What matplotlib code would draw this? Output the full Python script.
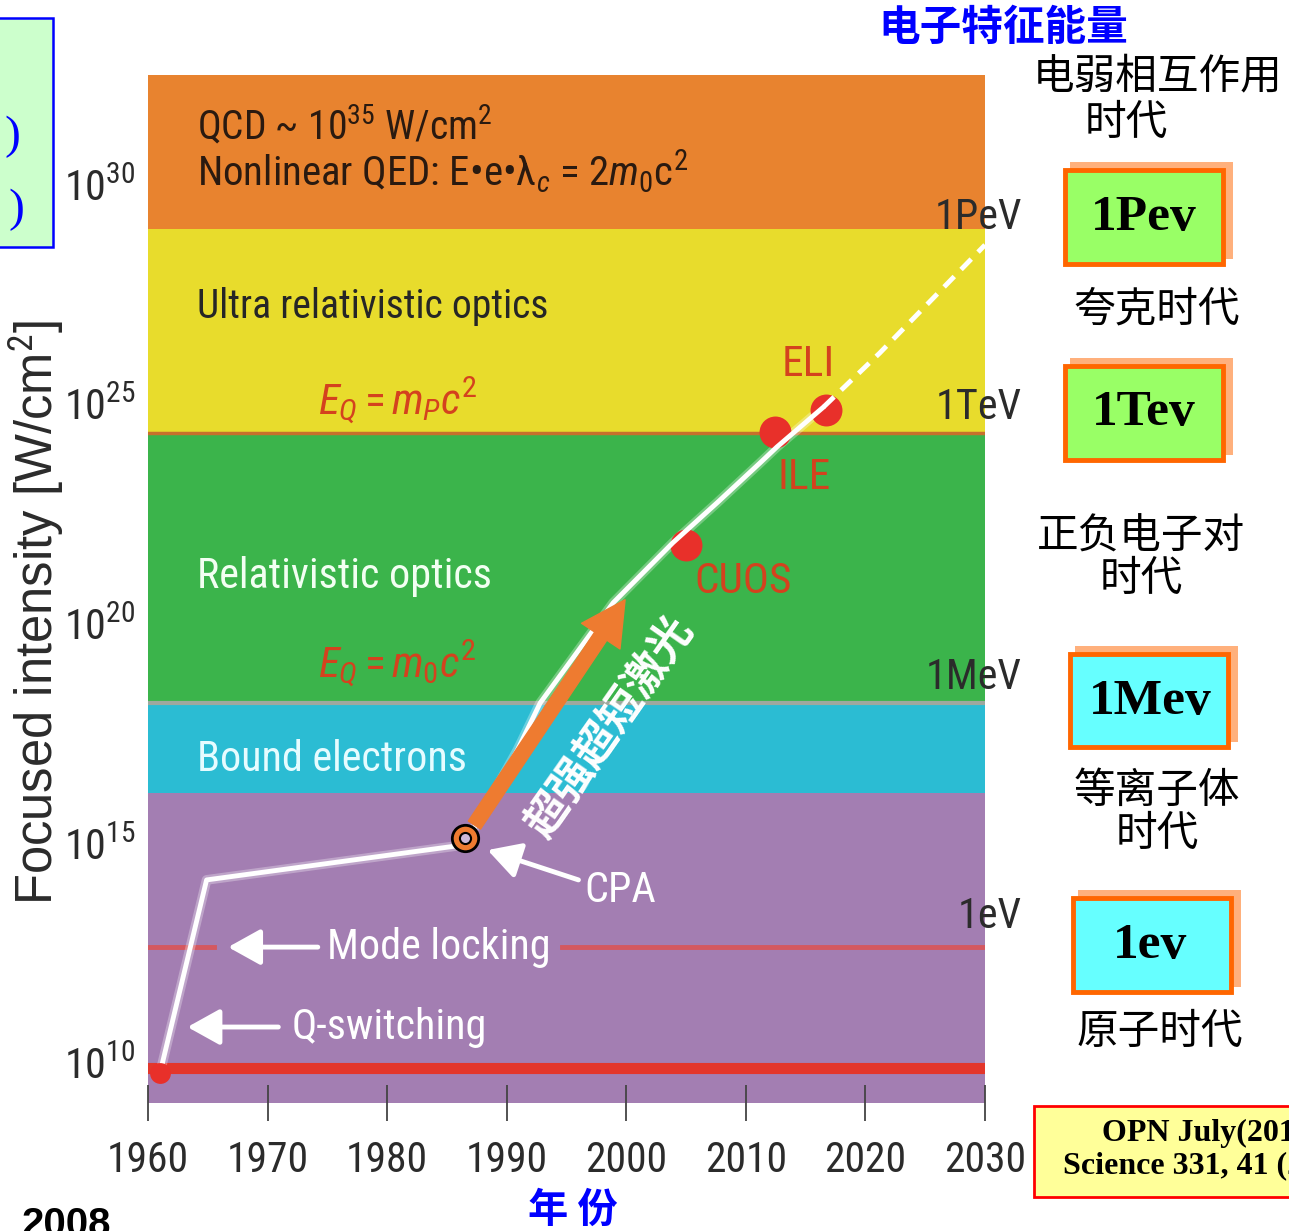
import matplotlib
matplotlib.use('Agg')
import matplotlib.pyplot as plt
import matplotlib.patches as mpatches
from matplotlib.transforms import Affine2D
from matplotlib import font_manager as fm
import numpy as np

# ---- pick a narrow sans font (reference text is condensed) ----
_ttf = fm.fontManager.ttflist
_names = {f.name for f in _ttf}
NARROW, STRETCH, SCALE = None, 'normal', 1.0
for c, sc in [('Liberation Sans Narrow', 1.0), ('Arial Narrow', 1.0), ('Roboto Condensed', 0.92),
              ('Noto Sans Condensed', 0.9), ('Open Sans Condensed', 0.9), ('Noto Sans SemiCondensed', 0.85)]:
    if c in _names:
        NARROW, SCALE = c, sc
        break
if NARROW is None:
    if any(f.name == 'DejaVu Sans' and 'Condensed' in f.fname for f in _ttf):
        NARROW, STRETCH, SCALE = 'DejaVu Sans', 'condensed', 0.86
    else:
        NARROW, SCALE = 'Liberation Sans', 0.84

plt.rcParams['font.family'] = [NARROW, 'DejaVu Sans']
plt.rcParams['font.stretch'] = STRETCH
MT = NARROW + (':condensed' if STRETCH == 'condensed' else '')
plt.rcParams['mathtext.fontset'] = 'custom'
plt.rcParams['mathtext.rm'] = MT
plt.rcParams['mathtext.it'] = MT + ':italic'
plt.rcParams['mathtext.bf'] = MT + ':bold'
plt.rcParams['mathtext.sf'] = MT


def fs(v):
    return v * SCALE


CJK = ['Noto Sans CJK SC', 'DejaVu Sans']
SERIF = ['Liberation Serif', 'DejaVu Serif']

# ---------------- data ----------------
year_ticks = [1960, 1970, 1980, 1990, 2000, 2010, 2020, 2030]
intensity_exps = [10, 15, 20, 25, 30]

# regime bands, log10 of intensity (W/cm^2)
band_bounds = [9.0, 16.15, 18.2, 24.35, 29.0, 33.0]
band_colors = ['#a37eb2', '#2bbcd3', '#3bb44b', '#e8dc2c', '#e8832f']

# white curve: record focused intensity vs year (log10 I)
curve_years = [1961.0, 1964.9, 1986.5, 1990.9, 1992.8, 1998.9, 2003.9, 2007.6, 2011.2, 2012.6, 2016.5]
curve_logI = [9.77, 14.17, 14.97, 17.13, 18.20, 20.48, 21.85, 22.76, 23.67, 24.03, 24.94]
# projected (dashed) part
proj_years = [2016.5, 2021.2, 2030.0]
proj_logI = [24.94, 26.17, 28.63]

facility_names = ['CUOS', 'ILE', 'ELI']
facility_years = [2005.0, 2012.4, 2016.7]
facility_logI = [21.80, 24.37, 24.87]

start_year, start_logI = 1961.0, 9.78
cpa_year, cpa_logI = 1986.5, 15.13
qswitch_line_logI = 9.89
modelock_line_logI = 12.64

# ultra-intense arrow
arrow_from = (1987.3, 15.42)
arrow_to = (1999.9, 20.55)

energy_labels = ['1PeV', '1TeV', '1MeV', '1eV']
energy_logI = [29.25, 24.92, 18.77, 13.33]

era_box_labels = ['1Pev', '1Tev', '1Mev', '1ev']
era_box_colors = ['#99ff66', '#99ff66', '#66ffff', '#66ffff']
era_names = ['夸克时代', '正负电子对\n时代', '等离子体\n时代', '原子时代']

# ---------------- figure ----------------
W, H = 1289, 1231
fig = plt.figure(figsize=(W / 100, H / 100), dpi=100)
PX = Affine2D().scale(1.0 / W, -1.0 / H).translate(0, 1) + fig.transFigure

ax = fig.add_axes([148 / W, 1 - 1103 / H, 837 / W, 1028 / H])
ax.set_yscale('log')
ax.set_xlim(1960, 2030.0)
ax.set_ylim(10 ** 9.09, 10 ** 32.5)
for s in ax.spines.values():
    s.set_visible(False)

for lo, hi, c in zip(band_bounds[:-1], band_bounds[1:], band_colors):
    ax.axhspan(10 ** lo, 10 ** hi, color=c, lw=0, zorder=0)
ax.axhline(10 ** band_bounds[3], color='#c8702c', lw=2.5, zorder=1)
ax.axhline(10 ** band_bounds[2], color='#9ea89e', lw=3, zorder=1)

# red laser lines
ax.axhline(10 ** qswitch_line_logI, color='#e3362b', lw=8, zorder=2)
ax.plot([1960, 1965.5], [10 ** modelock_line_logI] * 2, color='#d4585f', lw=3.5, zorder=2)
ax.plot([1994.6, 2030], [10 ** modelock_line_logI] * 2, color='#d4585f', lw=3.5, zorder=2)

# white curve with glow
cy = 10 ** np.array(curve_logI)
ax.plot(curve_years, cy, color='white', lw=7, alpha=0.3, zorder=3, solid_joinstyle='round')
ax.plot(curve_years, cy, color='white', lw=3.5, zorder=4, solid_joinstyle='round', solid_capstyle='round')
ax.plot(proj_years, 10 ** np.array(proj_logI), color='white', lw=3.5, ls=(0, (3, 2)), zorder=4)

# red facility dots
ax.plot(facility_years, 10 ** np.array(facility_logI), 'o', ms=23, color='#e8302a', mec='none', zorder=3.5)
ax.plot([start_year], [10 ** start_logI], 'o', ms=15, color='#e8302a', mec='none', zorder=5)

# orange arrow
ax.annotate('', xy=(arrow_to[0], 10 ** arrow_to[1]), xytext=(arrow_from[0], 10 ** arrow_from[1]),
            arrowprops=dict(arrowstyle='simple,head_length=0.9,head_width=0.95,tail_width=0.3',
                            color='#ee7b30', shrinkA=0, shrinkB=0, mutation_scale=35), zorder=6)
# CPA marker
ax.plot([cpa_year], [10 ** cpa_logI], 'o', ms=19, mfc='#ee7b30', mec='black', mew=2, zorder=7)
ax.plot([cpa_year], [10 ** cpa_logI], 'o', ms=8, mfc='#cdb8d8', mec='black', mew=1.5, zorder=8)

ax.text(1998.6, 10 ** 17.65, '超强超短激光', family=CJK, fontsize=31, fontweight='bold',
        color='white', rotation=55, rotation_mode='anchor', ha='center', va='center', zorder=9)

# white arrows
wa = dict(arrowstyle='-|>,head_length=0.9,head_width=0.5', color='white', lw=3.5,
          shrinkA=0, shrinkB=0, mutation_scale=22)
ax.annotate('', xy=(1988.4, 10 ** 14.85), xytext=(1996.0, 10 ** 14.17), arrowprops=wa, zorder=6)
ax.annotate('', xy=(1966.7, 10 ** modelock_line_logI), xytext=(1974.2, 10 ** modelock_line_logI), arrowprops=wa, zorder=6)
ax.annotate('', xy=(1963.3, 10 ** 10.82), xytext=(1970.9, 10 ** 10.82), arrowprops=wa, zorder=6)

# in-plot texts
FS = fs(33)
ax.text(1964.1, 10 ** 31.35, 'QCD ~ 10$^{35}$ W/cm$^{2}$', fontsize=fs(31), color='#2a1a10', va='center')
ax.text(1964.1, 10 ** 30.3, 'Nonlinear QED: E•e•λ$_{c}$ = 2$m_0$c$^2$', fontsize=fs(32), color='#2a1a10', va='center')
ax.text(1964.1, 10 ** 27.22, 'Ultra relativistic optics', fontsize=fs(31), color='#262626', va='center')
ax.text(1964.1, 10 ** 21.07, 'Relativistic optics', fontsize=FS, color='#f2fff2', va='center')
ax.text(1964.1, 10 ** 16.92, 'Bound electrons', fontsize=FS, color='#e6fcff', va='center')
ax.text(1974.2, 10 ** 25.06, '$E_Q = m_P c^2$', fontsize=fs(34), color='#d4421e', va='center')
ax.text(1974.2, 10 ** 19.07, '$E_Q = m_0 c^2$', fontsize=fs(34), color='#d4421e', va='center')
for name, x, y in zip(facility_names, [2009.8, 2014.9, 2015.2], [20.96, 23.33, 25.9]):
    ax.text(x, 10 ** y, name, fontsize=fs(34), color='#d4421e', ha='center', va='center')
ax.text(1999.5, 10 ** 13.94, 'CPA', fontsize=FS, color='white', ha='center', va='center')
ax.text(1975.0, 10 ** 12.64, 'Mode locking', fontsize=FS, color='white', va='center')
ax.text(1972.0, 10 ** 10.82, 'Q-switching', fontsize=FS, color='white', va='center')

for lab, y in zip(energy_labels, energy_logI):
    ax.text(2033.1, 10 ** y, lab, fontsize=fs(33), color='#2b2b2b', ha='right', va='center', clip_on=False)

# axes ticks
ax.set_xticks(year_ticks)
ax.set_xticklabels([str(y) for y in year_ticks])
ax.set_yticks([10.0 ** e for e in intensity_exps])
ax.set_yticklabels(['10$^{%d}$' % e for e in intensity_exps])
ax.minorticks_off()
ax.tick_params(axis='x', direction='inout', length=26, width=1.3, color='#444444', pad=14,
               labelsize=fs(32.5), labelcolor='#2b2b2b')
ax.tick_params(axis='y', length=0, pad=9, labelsize=fs(33), labelcolor='#2b2b2b')
fig.text(36 / W, 1 - 613 / H, 'Focused intensity [W/cm$^2$]', rotation=90, fontsize=36.5,
         family=['Liberation Sans', 'DejaVu Sans'], stretch='normal', color='#2b2b2b',
         ha='center', va='center')

# ---------------- right-hand annotations ----------------
fig.text(1003, 28, '电子特征能量', transform=PX, family=CJK, fontsize=30, fontweight='bold',
         color='#0000ff', ha='center', va='center')
fig.text(1158, 77, '电弱相互作用', transform=PX, family=CJK, fontsize=30, color='black', ha='center', va='center')
fig.text(1126, 123, '时代', transform=PX, family=CJK, fontsize=30, color='black', ha='center', va='center')

box_geom = [(1063, 168, 1225, 266), (1063, 364, 1225, 462), (1068, 652, 1230, 749), (1071, 896, 1233, 994)]
box_text_xy = [(1144, 218), (1144, 413), (1150, 702), (1150, 946)]
era_xy = [(1157, 310), (1141, 558), (1157, 813), (1160, 1032)]
for (x0, y0, x1, y1), lab, col, (tx, ty), name, (ex, ey) in zip(box_geom, era_box_labels, era_box_colors,
                                                                  box_text_xy, era_names, era_xy):
    fig.patches.append(mpatches.Rectangle((x0 + 7, y0 - 6), x1 - x0 + 1, y1 - y0 - 1, transform=PX,
                                          facecolor='#ffb07c', edgecolor='none', zorder=1))
    fig.patches.append(mpatches.Rectangle((x0 + 2, y0 + 2), x1 - x0 - 4, y1 - y0 - 4, transform=PX,
                                          facecolor=col, edgecolor='#ff6600', lw=3.5, zorder=2))
    fig.text(tx, ty, lab, transform=PX, family=SERIF, fontweight='bold', fontsize=37, color='black',
             ha='center', va='center', zorder=3)
    fig.text(ex, ey, name, transform=PX, family=CJK, fontsize=30, color='black', ha='center',
             va='center', linespacing=1.05, multialignment='center')

# reference box (bottom right)
fig.patches.append(mpatches.Rectangle((1034, 1106), 360, 91, transform=PX, facecolor='#ffff99',
                                      edgecolor='#ff0000', lw=2, zorder=1))
fig.text(1211, 1133, 'OPN July(2011)', transform=PX, family=SERIF, fontweight='bold', fontsize=23,
         color='black', ha='center', va='center', zorder=3)
fig.text(1211, 1166, 'Science 331, 41 (2011)', transform=PX, family=SERIF, fontweight='bold', fontsize=23,
         color='black', ha='center', va='center', zorder=3)

# left clipped box
fig.patches.append(mpatches.Rectangle((-20, 18), 73, 229, transform=PX, facecolor='#ccffcc',
                                      edgecolor='#0000ff', lw=1.8, zorder=1))
fig.text(20, 137, ')', transform=PX, family=SERIF, fontsize=34, color='#0000ff', ha='right', va='center', zorder=3)
fig.text(24, 210, ')', transform=PX, family=SERIF, fontsize=34, color='#0000ff', ha='right', va='center', zorder=3)

fig.text(22, 1236, '2008', transform=PX, family=['Liberation Sans', 'DejaVu Sans'], fontweight='bold',
         stretch='normal', fontsize=29, color='black', ha='left', va='baseline')
fig.text(573, 1210, '年 份', transform=PX, family=CJK, fontsize=29, fontweight='bold', color='#0000ff',
         ha='center', va='center')

fig.savefig('out.png', dpi=100, facecolor='white')
